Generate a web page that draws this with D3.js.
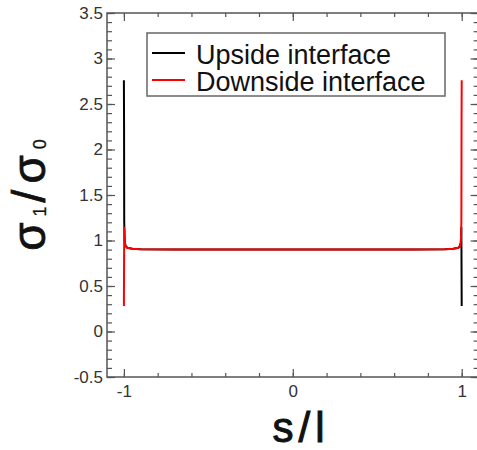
<!DOCTYPE html>
<html>
<head>
<meta charset="utf-8">
<script src="https://cdn.jsdelivr.net/npm/d3@7"></script>
<style>
html, body { margin: 0; padding: 0; background: #fff; }
svg { display: block; }
</style>
</head>
<body>
<svg id="chart" width="477" height="450"></svg>
<script>
// ---- data ----
const upsideS = [-1, -0.999, -0.998, -0.995, -0.99, -0.98, -0.95, -0.9, -0.7, -0.5, -0.3, 0, 0.3, 0.5, 0.7, 0.9, 0.95, 0.98, 0.99, 0.995, 0.998, 1];
const upsideV = [2.76, 2.3, 1.2, 0.98, 0.94, 0.92, 0.91, 0.905, 0.9, 0.9, 0.9, 0.9, 0.9, 0.9, 0.9, 0.905, 0.91, 0.92, 0.94, 0.98, 1.14, 0.28];
const downsideS = [-1, -0.998, -0.995, -0.99, -0.98, -0.95, -0.9, -0.7, -0.5, -0.3, 0, 0.3, 0.5, 0.7, 0.9, 0.95, 0.98, 0.99, 0.995, 0.998, 0.999, 1];
const downsideV = [0.28, 1.14, 0.98, 0.94, 0.92, 0.91, 0.905, 0.9, 0.9, 0.9, 0.9, 0.9, 0.9, 0.9, 0.905, 0.91, 0.92, 0.94, 0.98, 1.2, 2.3, 2.76];
const seriesNames = ["Upside interface", "Downside interface"];
const seriesColors = ["#000000", "#ff0000"];
const xTickLabels = [-1, 0, 1];
const yTickLabels = [-0.5, 0, 0.5, 1, 1.5, 2, 2.5, 3, 3.5];

// ---- layout ----
const svg = d3.select("#chart");
const L = 107, R = 478.6, T = 13, B = 377;
const x = d3.scaleLinear().domain([-1.1, 1.1]).range([L, R]);
const y = d3.scaleLinear().domain([-0.5, 3.5]).range([B, T]);
const axisColor = "#555";
const font = "'Liberation Sans', Arial, sans-serif";
const fmt = d => String(d);

const xMinor = d3.range(-1, 1.0001, 0.2).map(v => +v.toFixed(2));
const yMinor = d3.range(-0.5, 3.5001, 0.1).map(v => +v.toFixed(2));

function styleAxis(g) {
  g.select(".domain").remove();
  g.selectAll("line").attr("stroke", axisColor).attr("stroke-width", 1.2);
  g.selectAll("text").attr("font-family", font).attr("font-size", 17).attr("fill", "#333");
}

svg.append("g").attr("transform", `translate(0,${B})`)
  .call(d3.axisBottom(x).tickValues(xMinor).tickSize(-4).tickFormat(""))
  .call(styleAxis);
svg.append("g").attr("transform", `translate(0,${B})`)
  .call(d3.axisBottom(x).tickValues(xTickLabels).tickSize(-8).tickPadding(8).tickFormat(fmt))
  .call(styleAxis);
svg.append("g").attr("transform", `translate(0,${T})`)
  .call(d3.axisTop(x).tickValues(xMinor).tickSize(-4).tickFormat(""))
  .call(styleAxis);
svg.append("g").attr("transform", `translate(0,${T})`)
  .call(d3.axisTop(x).tickValues(xTickLabels).tickSize(-8).tickFormat(""))
  .call(styleAxis);
svg.append("g").attr("transform", `translate(${L},0)`)
  .call(d3.axisLeft(y).tickValues(yMinor).tickSize(-5).tickFormat(""))
  .call(styleAxis);
svg.append("g").attr("transform", `translate(${L},0)`)
  .call(d3.axisLeft(y).tickValues(yTickLabels).tickSize(-8).tickPadding(4).tickFormat(fmt))
  .call(styleAxis);
svg.append("g").attr("transform", `translate(${R},0)`)
  .call(d3.axisRight(y).tickValues(yMinor).tickSize(-5).tickFormat(""))
  .call(styleAxis);
svg.append("g").attr("transform", `translate(${R},0)`)
  .call(d3.axisRight(y).tickValues(yTickLabels).tickSize(-8).tickFormat(""))
  .call(styleAxis);

svg.append("rect").attr("x", L).attr("y", T).attr("width", R - L).attr("height", B - T)
  .attr("fill", "none").attr("stroke", axisColor).attr("stroke-width", 1.5);

const line = d3.line().x(d => x(d[0])).y(d => y(d[1]));
const series = [d3.zip(upsideS, upsideV), d3.zip(downsideS, downsideV)];
series.forEach((s, i) => {
  svg.append("path").datum(s).attr("d", line)
    .attr("fill", "none").attr("stroke", seriesColors[i]).attr("stroke-width", 2)
    .attr("stroke-linejoin", "round");
});

const lg = svg.append("g");
lg.append("rect").attr("x", 147).attr("y", 33).attr("width", 298).attr("height", 63)
  .attr("fill", "#fff").attr("stroke", "#666").attr("stroke-width", 1.5);
seriesNames.forEach((n, i) => {
  const cy = 53 + i * 27;
  lg.append("line").attr("x1", 152).attr("x2", 185).attr("y1", cy).attr("y2", cy)
    .attr("stroke", seriesColors[i]).attr("stroke-width", 2);
  lg.append("text").attr("x", 196).attr("y", cy + 11).text(n)
    .attr("font-family", font).attr("font-size", 27).attr("fill", "#111");
});

svg.append("text").attr("x", 301).attr("y", 442).attr("text-anchor", "middle")
  .attr("font-family", font).attr("font-size", 42)
  .attr("letter-spacing", 5).attr("fill", "#111").attr("stroke", "#111").attr("stroke-width", 1)
  .text("s/l");

const yl = svg.append("text")
  .attr("transform", "translate(45,195) rotate(-90)")
  .attr("text-anchor", "middle")
  .attr("font-family", font).attr("fill", "#111").attr("stroke", "#111").attr("stroke-width", 0.8);
yl.append("tspan").attr("font-size", 46).attr("letter-spacing", 6).text("σ");
yl.append("tspan").attr("font-size", 18).attr("dy", 1).attr("letter-spacing", 4).attr("stroke-width", 0.3).text("1");
yl.append("tspan").attr("font-size", 46).attr("dy", -1).attr("letter-spacing", 6).text("/");
yl.append("tspan").attr("font-size", 46).attr("letter-spacing", 6).text("σ");
yl.append("tspan").attr("font-size", 18).attr("dy", 1).attr("stroke-width", 0.3).text("0");
</script>
</body>
</html>
